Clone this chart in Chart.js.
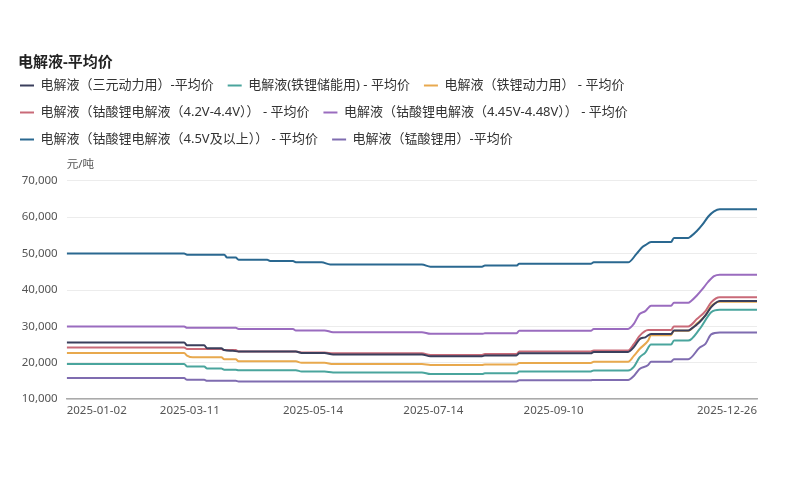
<!DOCTYPE html>
<html lang="zh">
<head>
  <meta charset="UTF-8">
  <title>电解液-平均价</title>
  <script src="https://cdn.jsdelivr.net/npm/chart.js"></script>
  <style>
    body { margin: 0; background: #fff; }
    #wrap { width: 800px; height: 495px; }
  </style>
</head>
<body>
  <div id="wrap"><canvas id="priceChart" width="800" height="495"></canvas></div>

  <script>
    // x = trading-day index (0 = 2025-01-02 ... 241 = 2025-12-26), y = 元/吨
    const tickIndex = [0, 43, 86, 128, 170, 241];
    const tickLabels = ['2025-01-02', '2025-03-11', '2025-05-14', '2025-07-14', '2025-09-10', '2025-12-26'];

    const seriesNames = [
      '电解液（三元动力用）-平均价',
      '电解液(铁锂储能用) - 平均价',
      '电解液（铁锂动力用） - 平均价',
      '电解液（钴酸锂电解液（4.2V-4.4V）） - 平均价',
      '电解液（钴酸锂电解液（4.45V-4.48V）） - 平均价',
      '电解液（钴酸锂电解液（4.5V及以上）） - 平均价',
      '电解液（锰酸锂用）-平均价'
    ];
    const seriesColors = ['#3a3f5c', '#4aa59d', '#e8a94e', '#c96a78', '#9a6cbf', '#2a6890', '#7f6cb0'];

    const ternary = [[0,25600],[41,25600],[42,24800],[48,24800],[49,24000],[54,24000],[55,23500],[58,23300],[60,23100],[80,23100],[82,22700],[90,22700],[93,22300],[124,22300],[127,21800],[145,21800],[146,22000],[157,22000],[158,22600],[183,22600],[184,23000],[196,23000],[198,24300],[200,26500],[202,27000],[204,27900],[211,27900],[212,28900],[217,28900],[218,29300],[221,31200],[223,33000],[225,35300],[228,37000],[241,37000]];
    const lfpStorage = [[0,19700],[41,19700],[42,19000],[48,19000],[49,18400],[54,18400],[55,18100],[59,18100],[60,17950],[80,17950],[82,17600],[90,17600],[93,17350],[124,17350],[127,16900],[145,16900],[146,17100],[157,17100],[158,17600],[183,17600],[184,17900],[196,17900],[198,18900],[200,21500],[202,22800],[204,25000],[211,25000],[212,26100],[217,26100],[221,29300],[225,33900],[228,34600],[241,34600]];
    const lfpPower = [[0,22700],[41,22700],[42,22000],[44,21500],[54,21500],[55,21000],[59,21000],[60,20400],[80,20400],[82,20000],[90,20000],[93,19650],[124,19650],[127,19400],[145,19400],[146,19500],[157,19500],[158,19950],[183,19950],[184,20300],[196,20300],[198,21900],[200,23800],[203,26100],[204,27600],[211,27600],[212,28800],[217,28800],[220,30800],[223,33000],[225,35600],[228,36800],[241,36800]];
    const lco44 = [[0,24200],[41,24200],[42,23800],[54,23800],[55,23500],[59,23500],[60,23100],[80,23100],[82,22850],[90,22850],[93,22600],[124,22600],[127,22150],[145,22150],[146,22400],[157,22400],[158,23100],[183,23100],[184,23400],[196,23400],[198,25100],[200,27400],[203,29000],[211,29000],[212,30000],[217,30000],[220,32000],[223,34200],[225,36600],[228,38000],[241,38000]];
    const lco448 = [[0,30000],[41,30000],[42,29600],[59,29600],[60,29300],[79,29300],[80,28900],[90,28900],[93,28400],[124,28400],[127,27950],[145,27950],[146,28100],[157,28100],[158,28800],[183,28800],[184,29300],[196,29300],[198,30700],[200,33400],[202,34200],[204,35700],[211,35700],[212,36500],[217,36500],[218,37000],[220,38500],[222,40300],[224,42300],[226,43800],[228,44200],[241,44200]];
    const lco45 = [[0,50000],[41,50000],[42,49700],[55,49700],[56,48900],[59,48900],[60,48300],[70,48300],[71,47950],[79,47950],[80,47600],[89,47600],[92,47000],[124,47000],[127,46400],[145,46400],[146,46700],[157,46700],[158,47200],[183,47200],[184,47600],[196,47600],[199,50000],[201,51800],[202,52300],[204,53200],[211,53200],[212,54300],[217,54300],[218,54800],[220,56200],[222,58000],[224,60200],[226,61600],[228,62200],[241,62200]];
    const lmo = [[0,15800],[41,15800],[42,15350],[48,15350],[49,15050],[59,15050],[60,14850],[157,14850],[158,15200],[183,15200],[184,15300],[196,15300],[198,16400],[200,18300],[203,19400],[204,20300],[211,20300],[212,21000],[217,21000],[221,24200],[223,25200],[225,27800],[228,28300],[241,28300]];

    const seriesData = [ternary, lfpStorage, lfpPower, lco44, lco448, lco45, lmo];

    Chart.defaults.font.family = '"Noto Sans", "Noto Sans CJK SC", sans-serif';
    Chart.defaults.color = '#555';

    // bold heading in the top-left corner
    const headline = {
      id: 'headline',
      afterDraw(chart) {
        const ctx = chart.ctx;
        ctx.save();
        ctx.font = 'bold 15px "Noto Sans", "Noto Sans CJK SC", sans-serif';
        ctx.fillStyle = '#222';
        ctx.textAlign = 'left';
        ctx.textBaseline = 'middle';
        ctx.fillText('电解液-平均价', 18, 63);
        ctx.restore();
      }
    };

    const ctx = document.getElementById('priceChart').getContext('2d');
    new Chart(ctx, {
      type: 'line',
      data: {
        datasets: seriesData.map((pts, i) => ({
          label: seriesNames[i],
          data: pts.map(p => ({ x: p[0], y: p[1] })),
          borderColor: seriesColors[i],
          backgroundColor: seriesColors[i],
          borderWidth: 2,
          pointRadius: 0,
          cubicInterpolationMode: 'monotone',
          fill: false
        }))
      },
      options: {
        responsive: false,
        animation: false,
        layout: { padding: { top: 65, left: 6, right: 43, bottom: 72 } },
        plugins: {
          title: { display: false },
          legend: {
            position: 'top',
            align: 'start',
            labels: {
              usePointStyle: true,
              pointStyle: 'line',
              pointStyleWidth: 14,
              padding: 14,
              color: '#333',
              font: { size: 13 }
            }
          },
          subtitle: {
            display: true,
            text: '元/吨',
            align: 'start',
            fullSize: false,
            weight: 500,
            color: '#555',
            font: { size: 11.5, weight: 'normal' },
            padding: { top: 2, bottom: 9 }
          },
          tooltip: { enabled: false }
        },
        scales: {
          x: {
            type: 'linear',
            min: 0,
            max: 241,
            afterBuildTicks(scale) {
              scale.ticks = tickIndex.map(v => ({ value: v }));
            },
            ticks: {
              align: 'inner',
              autoSkip: false,
              maxRotation: 0,
              padding: 5,
              color: '#555',
              font: { size: 11.5 },
              callback: v => tickLabels[tickIndex.indexOf(v)]
            },
            grid: { display: false, drawTicks: false },
            border: { display: true, color: '#aaa', width: 1.5 }
          },
          y: {
            min: 10000,
            max: 70000,
            afterFit(scale) { scale.width = 60.7; },
            ticks: {
              stepSize: 10000,
              padding: 9,
              color: '#555',
              font: { size: 11.5 },
              callback: v => v.toLocaleString('en-US')
            },
            grid: { color: '#ececec', drawTicks: false },
            border: { display: false }
          }
        }
      },
      plugins: [headline]
    });
  </script>
</body>
</html>
